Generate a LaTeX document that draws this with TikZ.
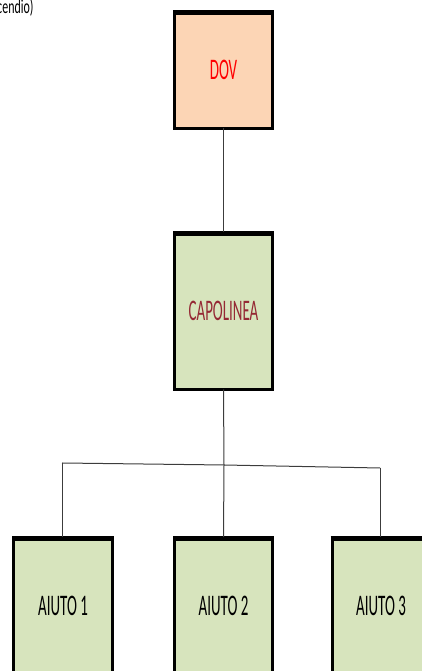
\documentclass[tikz,border=0pt]{standalone}
\usepackage{fontspec}
\setmainfont{Carlito}[FakeStretch=0.5]
\newfontfamily\cornerfont{Carlito}[FakeStretch=0.6]
\usepackage{tikz}
\usetikzlibrary{positioning}
\definecolor{peach}{RGB}{252,213,181}
\definecolor{sage}{RGB}{215,228,189}
\definecolor{wine}{RGB}{149,40,52}
\definecolor{linkgray}{RGB}{60,60,60}
\tikzstyle{link} = [draw=linkgray, line width=1bp]
\tikzstyle{every box} = [draw=black, line width=3bp, outer sep=0pt, inner sep=0pt, minimum width=98bp, font=\fontsize{30}{30}\selectfont]
\tikzstyle{chief} = [rectangle, fill=peach, text=red, minimum height=117bp, every box]
\tikzstyle{station} = [rectangle, fill=sage, text=wine, minimum height=157bp, every box]
\tikzstyle{helper} = [rectangle, fill=sage, text=black, minimum height=138bp, every box]
\tikzstyle{topedge} = [line width=5bp, shorten <=-1.5bp, shorten >=-1.5bp]
\begin{document}
\begin{tikzpicture}[x=1bp, y=1bp, node distance=241bp]
\useasboundingbox (0,0) rectangle (421,671);

% Heading (cut off)

\node[font=\cornerfont\fontsize{20}{20}\selectfont, anchor=base east] (heading) at (37,657) {cendio)};

% Chain of command

\node[chief] (dov) at (223.5,601) {DOV};

\node[station] (capolinea) [below of=dov] {CAPOLINEA};

% Helpers

\node[helper] (aiuto2) [below of=capolinea, yshift=-54bp] {AIUTO 2};

\node[helper] (aiuto1) [below of=capolinea, xshift=-160.5bp, yshift=-54bp] {AIUTO 1};

\node[helper] (aiuto3) [below of=capolinea, xshift=157.5bp, yshift=-54bp] {AIUTO 3};

\foreach \n in {dov,capolinea,aiuto1,aiuto2,aiuto3}
  \draw[topedge] ([yshift=-1bp]\n.north west) -- ([yshift=-1bp]\n.north east);

% Links

\coordinate (jleft) at (62,208);
\coordinate (jmid) at (224,206);
\coordinate (jright) at (380,203);

\draw[link] (dov.south) -- (capolinea.north);
\draw[link] (capolinea.south) -- (jmid);
\draw[link] (jleft) -- (jmid) -- (jright);
\draw[link] (jleft) -- (jleft |- aiuto1.north);
\draw[link] (jmid) -- (aiuto2.north);
\draw[link] (jright) -- (jright |- aiuto3.north);

\end{tikzpicture}
\end{document}
